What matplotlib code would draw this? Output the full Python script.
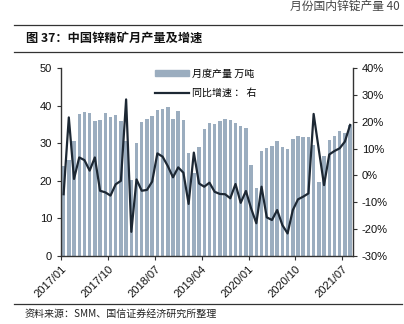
import numpy as np
import pandas as pd
import matplotlib
matplotlib.use("Agg")
import matplotlib.pyplot as plt
from matplotlib.lines import Line2D
from matplotlib.patches import Patch
from matplotlib.ticker import FuncFormatter

plt.rcParams['font.family'] = ['Liberation Sans', 'Noto Sans CJK SC', 'DejaVu Sans']

months = [p.strftime('%Y/%m') for p in pd.period_range('2017-01', '2021-08', freq='M')]

# monthly output, 10k tonnes
output = [24.0, 25.6, 30.6, 37.7, 38.4, 38.0, 35.9, 36.3, 38.1, 37.0, 37.4, 35.8,
          30.6, 20.3, 30.0, 35.6, 36.4, 37.2, 38.7, 39.1, 39.5, 36.4, 38.6, 36.2,
          27.3, 22.0, 29.1, 33.8, 35.5, 35.0, 35.9, 36.4, 36.1, 35.3, 34.7, 34.1,
          24.2, 18.2, 27.9, 28.6, 29.3, 30.6, 29.1, 28.4, 31.2, 32.0, 31.7, 31.6,
          29.4, 19.6, 26.7, 30.9, 31.9, 33.3, 32.8, 34.8]

# year-on-year growth, %
yoy = [-7.0, 21.6, -1.3, 6.7, 5.7, 1.8, 6.7, -5.7, -6.3, -7.5, -3.3, -2.0,
       28.3, -21.0, -1.5, -5.7, -5.4, -2.3, 8.2, 7.0, 3.5, -0.7, 3.0, 1.0,
       -10.6, 8.5, -3.0, -4.2, -2.7, -6.1, -6.9, -7.0, -8.5, -3.2, -10.2, -5.8,
       -12.3, -17.8, -4.2, -15.6, -16.6, -12.9, -18.5, -21.6, -12.9, -8.9, -7.9, -6.7,
       22.9, 9.5, -3.6, 7.8, 9.1, 10.1, 12.6, 18.8]

W, H = 404, 324
fig = plt.figure(figsize=(W / 100, H / 100), dpi=100)

# header / footer decorations
fig.text(400 / W, 1 - 10 / H, '月份国内锌锭产量 40', ha='right', va='baseline',
         fontsize=8.5, color='#444444', family=['Noto Sans CJK SC', 'DejaVu Sans'])
for yy in (25, 52, 304):
    fig.add_artist(Line2D([14 / W, 402 / W], [1 - yy / H] * 2, color='#333333', lw=0.9))
fig.text(26 / W, 1 - 38 / H, '图 37：中国锌精矿月产量及增速', ha='left', va='center',
         fontsize=8.8, fontweight='bold', color='#111111',
         family=['Noto Sans CJK SC', 'DejaVu Sans'])
fig.text(25 / W, 1 - 314 / H, '资料来源：SMM、国信证券经济研究所整理', ha='left', va='center',
         fontsize=7.2, color='#222222', family=['Noto Sans CJK SC', 'DejaVu Sans'])

left, right, top, bottom = 61, 352.7, 68, 256
ax = fig.add_axes([left / W, 1 - bottom / H, (right - left) / W, (bottom - top) / H])
x = np.arange(len(months))
ax.bar(x, output, width=0.66, color='#9badbf', zorder=2)
ax.set_xlim(-0.5, len(months) - 0.5)
ax.set_ylim(0, 50)
ax.set_yticks(range(0, 51, 10))

ax2 = ax.twinx()
ax2.plot(x, yoy, color='#1d2834', lw=1.6, zorder=3)
ax2.set_ylim(-30, 40)
ax2.set_yticks(range(-30, 41, 10))
ax2.yaxis.set_major_formatter(FuncFormatter(lambda v, p: f'{v:.0f}%'))

tick_idx = list(range(0, len(months), 9))
ax.set_xticks([i - 0.5 for i in tick_idx])
ax.set_xticklabels([months[i] for i in tick_idx], rotation=45, ha='right',
                   rotation_mode='anchor')

for a in (ax, ax2):
    a.spines['top'].set_visible(False)
    for s in ('left', 'right', 'bottom'):
        a.spines[s].set_color('#333333')
        a.spines[s].set_linewidth(1.0)
    a.tick_params(axis='both', direction='out', length=3, width=0.8,
                  colors='#333333', labelsize=8, labelcolor='#111111')
ax.spines['right'].set_visible(False)
ax2.spines['left'].set_visible(False)
ax2.spines['bottom'].set_visible(False)
ax.tick_params(axis='x', pad=3)

handles = [Patch(color='#9badbf'), Line2D([0], [0], color='#1d2834', lw=1.6)]
leg = fig.legend(handles, ['月度产量 万吨', '同比增速 ： 右'], loc='upper left',
                 bbox_to_anchor=(150 / W, 1 - 64 / H), frameon=False,
                 handlelength=3.4, handleheight=0.55, handletextpad=0.3,
                 labelspacing=0.9, borderpad=0,
                 prop={'family': ['Noto Sans CJK SC', 'DejaVu Sans'], 'size': 7.2})

fig.savefig('out.png', dpi=100, facecolor='white')
